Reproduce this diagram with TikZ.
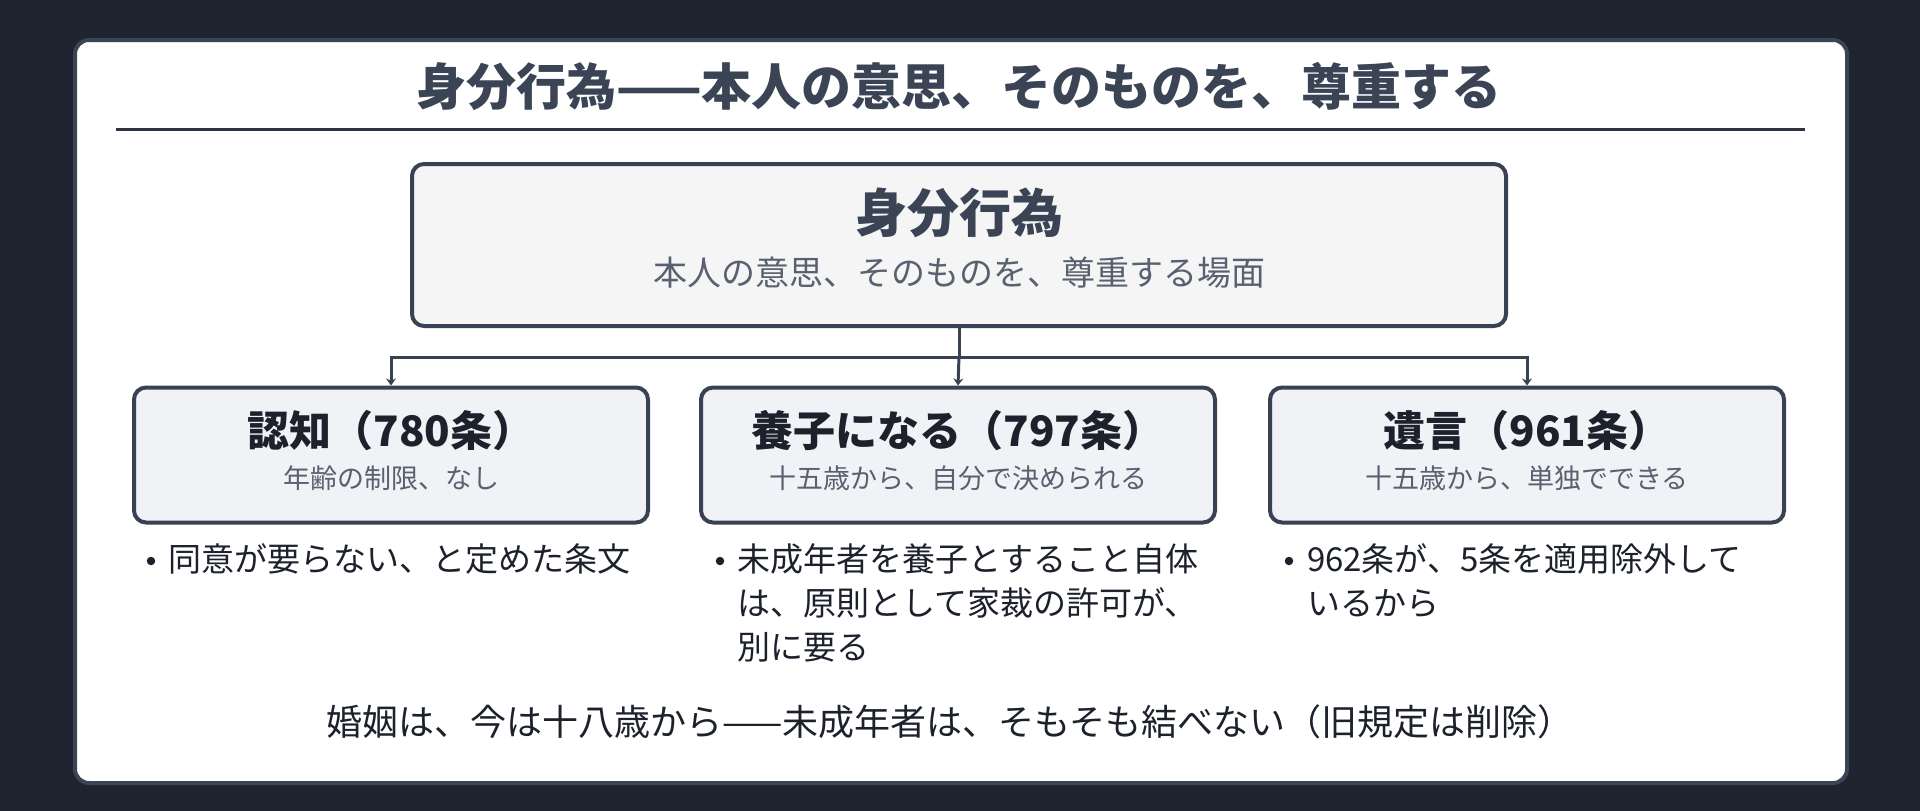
\documentclass[tikz,border=0pt]{standalone}
\usepackage{fontspec}
\setmainfont{Noto Sans CJK JP}
\usetikzlibrary{arrows.meta}
\definecolor{bg}{HTML}{1F2530}
\definecolor{cardline}{HTML}{3A4454}
\definecolor{boxline}{HTML}{384252}
\definecolor{titlecol}{HTML}{3A4454}
\definecolor{rulecol}{HTML}{2D3440}
\definecolor{mainfill}{HTML}{F5F5F6}
\definecolor{childfill}{HTML}{F0F2F5}
\definecolor{darktext}{HTML}{1C212B}
\definecolor{graytext}{HTML}{596170}
\newcommand{\fs}[2]{\fontsize{#1pt}{#2pt}\selectfont}
\tikzset{
  card/.style={draw=cardline, line width=4pt, fill=white, rounded corners=14pt},
  mainbox/.style={draw=boxline, line width=4pt, fill=mainfill, rounded corners=12pt,
    minimum width=1094pt, minimum height=162pt, inner sep=0pt},
  childbox/.style={draw=boxline, line width=4pt, fill=childfill, rounded corners=12pt,
    minimum width=514pt, minimum height=135pt, inner sep=0pt},
  link/.style={draw=boxline, line width=3pt},
  arr/.style={link, -{Stealth[length=7pt,width=10pt]}},
  txt/.style={inner sep=0pt, outer sep=0pt},
  bigtitle/.style={txt, text=titlecol, font=\fs{50}{60}\bfseries},
  maintitle/.style={txt, text=titlecol, font=\fs{52}{62}\bfseries},
  mainsub/.style={txt, text=graytext, font=\fs{34}{40}},
  childtitle/.style={txt, text=darktext, font=\fs{42}{50}\bfseries},
  childsub/.style={txt, text=graytext, font=\fs{27}{34}},
  bullettext/.style={txt, text=darktext, font=\fs{33}{44}, align=left, anchor=north west},
  bulletdot/.style={circle, fill=darktext, minimum size=8.5pt, inner sep=0pt},
  note/.style={txt, text=darktext, font=\fs{36}{42}},
}
\begin{document}
\begin{tikzpicture}[x=1pt,y=-1pt]
\fill[bg] (0,0) rectangle (1920,811);
\useasboundingbox (0,0) rectangle (1920,811);
\path[card] (75,40) rectangle (1847,783);
\node[bigtitle] (title) at (959,86) {身分行為——本人の意思、そのものを、尊重する};
\draw[rulecol, line width=3pt] (116,129) -- (1805,129);

\node[mainbox] (main) at (959,245) {};
\node[maintitle] (mt) at (959,213) {身分行為};
\node[mainsub] (ms) at (959,273) {本人の意思、そのものを、尊重する場面};

\node[childbox] (c1) at (391,455) {};
\node[childbox] (c2) at (958,455) {};
\node[childbox] (c3) at (1527,455) {};

\node[childtitle] (c1t) at (391,431) {認知（780条）};
\node[childsub] (c1s) at (391,478) {年齢の制限、なし};
\node[childtitle] (c2t) at (958,431) {養子になる（797条）};
\node[childsub] (c2s) at (958,478) {十五歳から、自分で決められる};
\node[childtitle] (c3t) at (1527,431) {遺言（961条）};
\node[childsub] (c3s) at (1527,478) {十五歳から、単独でできる};

\coordinate (hub) at (959,357);
\draw[link] (main.south) -- (hub);
\draw[arr] (hub) -| (c1.north);
\draw[arr] (hub) -| (c3.north);
\draw[arr] (hub) -- (c2.north);

\node[bulletdot] (b1) at (151,561) {};
\node[bullettext] (t1) at (168,544) {同意が要らない、と定めた条文};
\node[bulletdot] (b2) at (720,561) {};
\node[bullettext] (t2) at (737,544) {未成年者を養子とすること自体\\は、原則として家裁の許可が、\\別に要る};
\node[bulletdot] (b3) at (1289,561) {};
\node[bullettext] (t3) at (1307,544) {962条が、5条を適用除外して\\いるから};

\node[note] (n) at (950,722) {婚姻は、今は十八歳から——未成年者は、そもそも結べない（旧規定は削除）};
\end{tikzpicture}
\end{document}
